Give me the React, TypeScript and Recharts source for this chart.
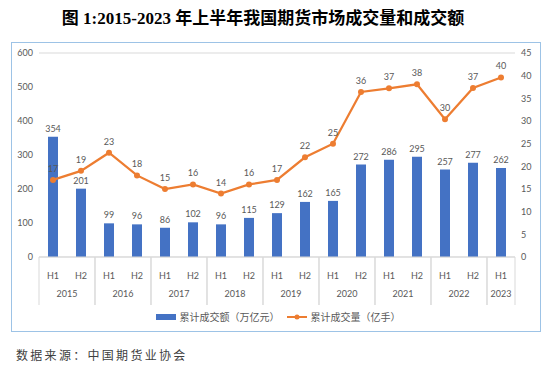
import React from 'react';
import { ComposedChart, Bar, Line, XAxis, YAxis, CartesianGrid, LabelList, Legend } from 'recharts';

const halves = ['H1', 'H2', 'H1', 'H2', 'H1', 'H2', 'H1', 'H2', 'H1', 'H2', 'H1', 'H2', 'H1', 'H2', 'H1', 'H2', 'H1'];
const years = ['2015', '2015', '2016', '2016', '2017', '2017', '2018', '2018', '2019', '2019', '2020', '2020', '2021', '2021', '2022', '2022', '2023'];
const turnover = [354, 201, 99, 96, 86, 102, 96, 115, 129, 162, 165, 272, 286, 295, 257, 277, 262];
const volume = [17, 19, 23, 18, 15, 16, 14, 16, 17, 22, 25, 36.4, 37.2, 38.1, 30.4, 37.3, 39.6];
const leftTicks = [0, 100, 200, 300, 400, 500, 600];
const rightTicks = [0, 5, 10, 15, 20, 25, 30, 35, 40, 45];

const TITLE = '图 1:2015-2023 年上半年我国期货市场成交量和成交额';
const SERIES_BAR = '累计成交额（万亿元）';
const SERIES_LINE = '累计成交量（亿手）';
const SOURCE = '数据来源：中国期货业协会';

const data = halves.map((h, i) => ({
  key: years[i] + h,
  half: h,
  year: years[i],
  turnover: turnover[i],
  volume: volume[i],
}));

const FONT = 'Lato, "Noto Sans CJK SC", sans-serif';
const TEXT = '#595959';
const GRID = '#d9d9d9';
const BLUE = '#4472C4';
const ORANGE = '#ED7D31';

const XTick = (props: any) => {
  const { x, y, payload, index } = props;
  const half = payload && payload.offset ? payload.offset : 14;
  const i = index;
  const yr = years[i];
  const isFirst = i === 0 || years[i - 1] !== yr;
  const isLast = i === years.length - 1 || years[i + 1] !== yr;
  return (
    <g>
      <text x={x} y={y + 22} textAnchor="middle" fontSize={9} fill={TEXT} fontFamily={FONT}>
        {halves[i]}
      </text>
      {isFirst && (
        <text x={isLast ? x : x + half} y={y + 40} textAnchor="middle" fontSize={9} fill={TEXT} fontFamily={FONT}>
          {yr}
        </text>
      )}
      {isFirst && <line x1={x - half} y1={y} x2={x - half} y2={y + 48} stroke={GRID} strokeWidth={1} />}
      {isLast && <line x1={x + half} y1={y} x2={x + half} y2={y + 48} stroke={GRID} strokeWidth={1} />}
    </g>
  );
};

const LegendContent = () => (
  <div style={{ display: 'flex', justifyContent: 'center', alignItems: 'center', fontFamily: FONT, fontSize: 10, color: TEXT }}>
    <svg width={22} height={8} style={{ marginRight: 3 }}>
      <rect x={1} y={1} width={20} height={6} fill={BLUE} />
    </svg>
    <span style={{ marginRight: 6 }}>{SERIES_BAR}</span>
    <svg width={22} height={8} style={{ marginRight: 3 }}>
      <line x1={1} y1={4} x2={21} y2={4} stroke={ORANGE} strokeWidth={2} />
      <circle cx={11} cy={4} r={2.5} fill={ORANGE} />
    </svg>
    <span>{SERIES_LINE}</span>
  </div>
);

export default function App() {
  return (
    <div style={{ position: 'absolute', left: 0, top: 0, width: 555, height: 372, background: '#fff' }}>
      <div
        style={{
          position: 'absolute',
          left: 0,
          top: 4,
          width: 526,
          textAlign: 'center',
          fontFamily: '"Liberation Serif", "Noto Sans CJK SC", serif',
          fontWeight: 'bold',
          fontSize: 17,
          color: '#000',
          whiteSpace: 'nowrap',
        }}
      >
        {TITLE}
      </div>
      <div
        style={{
          position: 'absolute',
          left: 11,
          top: 42,
          width: 528,
          height: 288,
          border: '1px solid #9DC3E6',
        }}
      />
      <div style={{ position: 'absolute', left: 0, top: 0 }}>
        <ComposedChart
          width={555}
          height={372}
          data={data}
          margin={{ top: 53, left: 9, right: 10, bottom: 55 }}
          barCategoryGap={0}
        >
          <CartesianGrid vertical={false} stroke={GRID} />
          <XAxis
            dataKey="key"
            xAxisId="x"
            interval={0}
            height={60}
            tickLine={false}
            tickSize={0}
            tickMargin={0}
            axisLine={{ stroke: GRID }}
            tick={<XTick />}
          />
          <YAxis
            yAxisId="left"
            domain={[0, 600]}
            ticks={leftTicks}
            width={30}
            axisLine={false}
            tickLine={false}
            tickSize={0}
            tickMargin={6}
            tick={{ fontSize: 9, fill: TEXT, fontFamily: FONT }}
          />
          <YAxis
            yAxisId="right"
            orientation="right"
            domain={[0, 45]}
            ticks={rightTicks}
            width={30}
            axisLine={false}
            tickLine={false}
            tickSize={0}
            tickMargin={6}
            tick={{ fontSize: 9, fill: TEXT, fontFamily: FONT, textAnchor: 'start' }}
          />
          <Bar dataKey="turnover" xAxisId="x" yAxisId="left" fill={BLUE} barSize={10} isAnimationActive={false}>
            <LabelList dataKey="turnover" position="top" offset={5} fontSize={9} fill={TEXT} fontFamily={FONT} />
          </Bar>
          <Line
            dataKey="volume"
            xAxisId="x"
            yAxisId="right"
            stroke={ORANGE}
            strokeWidth={2.25}
            dot={{ r: 3, fill: ORANGE, stroke: ORANGE, strokeWidth: 0 }}
            activeDot={false}
            isAnimationActive={false}
          >
            <LabelList
              dataKey="volume"
              position="top"
              offset={8}
              fontSize={9}
              fill={TEXT}
              fontFamily={FONT}
              formatter={(v: any) => Math.round(Number(v))}
            />
          </Line>
          <Legend
            layout="horizontal"
            verticalAlign="middle"
            align="center"
            content={<LegendContent />}
            wrapperStyle={{ top: 309, left: 0, width: 555 }}
          />
        </ComposedChart>
      </div>
      <div
        style={{
          position: 'absolute',
          left: 16,
          top: 346,
          fontFamily: '"Noto Sans CJK SC", sans-serif',
          fontSize: 12,
          letterSpacing: 2.3,
          color: '#404040',
          whiteSpace: 'nowrap',
        }}
      >
        {SOURCE}
      </div>
    </div>
  );
}
